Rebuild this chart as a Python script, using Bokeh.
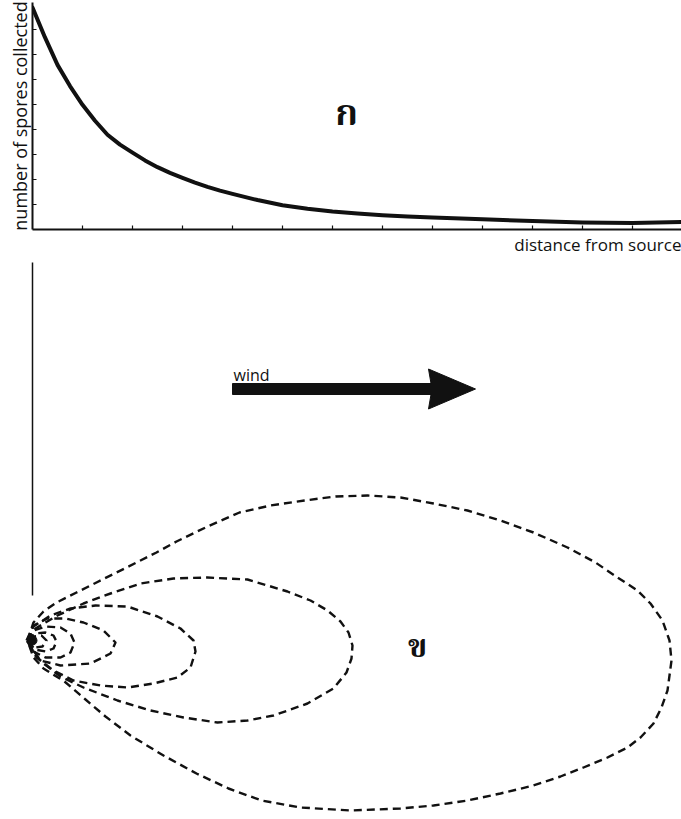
from bokeh.plotting import figure
from bokeh.layouts import column
from bokeh.models import Range1d, FixedTicker, Label, Title
from bokeh.core.properties import value
from bokeh.embed import file_html
from bokeh.resources import INLINE

# ---- panel ก : spore catch against distance from the source ----
distance = [0.0, 0.25, 0.5, 0.75, 1.0, 1.25, 1.5, 1.75, 2.0, 2.25, 2.5, 2.75, 3.0, 3.25,
            3.5, 3.75, 4.0, 4.5, 5.0, 5.5, 6.0, 6.5, 7.0, 7.5, 8.0, 9.0, 10.0, 11.0, 12.0,
            12.98]
spores = [8.9, 7.7, 6.6, 5.75, 5.0, 4.36, 3.8, 3.4, 3.08, 2.77, 2.5, 2.27, 2.07, 1.88,
          1.71, 1.56, 1.43, 1.18, 0.97, 0.83, 0.72, 0.64, 0.57, 0.52, 0.48, 0.41, 0.34,
          0.28, 0.26, 0.3]
distance_ticks = [1, 2, 3, 4, 5, 6, 7, 8, 9, 10, 11, 12]
spore_ticks = [1, 2, 3, 4, 5, 6, 7, 8]

# ---- panel ข : isolines of spore deposition around the source (downwind, crosswind) ----
iso1_x = [-0.10, 0.02, 0.22, 0.48, 0.88, 1.28, 1.68, 2.08, 2.48, 2.88, 3.46, 4.14, 4.76,
          5.44, 6.06, 6.70, 7.36, 8.02, 8.70, 9.36, 10.02, 10.70, 11.26, 11.70, 12.10,
          12.36, 12.60, 12.74, 12.78, 12.74, 12.70, 12.58, 12.42, 12.16, 11.90, 11.50,
          11.02, 10.56, 10.02, 9.36, 8.70, 8.02, 7.36, 6.36, 5.36, 4.58, 3.92, 3.28,
          2.62, 1.96, 1.46, 1.06, 0.64, 0.22, 0.02, -0.10]
iso1_y = [0.00, 0.36, 0.58, 0.76, 0.96, 1.16, 1.36, 1.56, 1.76, 1.98, 2.26, 2.56, 2.70,
          2.80, 2.88, 2.90, 2.86, 2.74, 2.60, 2.40, 2.16, 1.86, 1.56, 1.26, 1.00,
          0.74, 0.40, 0.00, -0.40, -0.70, -1.00, -1.34, -1.66, -1.94, -2.14, -2.34,
          -2.54, -2.72, -2.90, -3.06, -3.20, -3.30, -3.36, -3.40, -3.34, -3.20, -2.96, -2.66,
          -2.30, -1.90, -1.52, -1.18, -0.82, -0.56, -0.34, 0.00]
iso2_x = [-0.10, 0.06, 0.26, 0.50, 1.02, 1.56, 2.16, 2.82, 3.50, 4.30, 5.10, 5.56, 5.90,
          6.16, 6.32, 6.40, 6.38, 6.28, 6.02, 5.50, 4.82, 4.30, 3.70, 3.02, 2.36, 1.70,
          1.02, 0.56, 0.22, 0.00, -0.10]
iso2_y = [0.00, 0.24, 0.36, 0.50, 0.74, 0.94, 1.14, 1.24, 1.26, 1.22, 0.98, 0.80, 0.60,
          0.38, 0.16, -0.10, -0.36, -0.64, -0.96, -1.26, -1.50, -1.60, -1.64, -1.54, -1.40,
          -1.20, -0.94, -0.72, -0.46, -0.24, 0.00]
iso3_x = [-0.10, 0.02, 0.36, 0.76, 1.26, 1.90, 2.50, 2.96, 3.22, 3.26, 3.16, 2.90, 2.42,
          1.90, 1.36, 0.82, 0.42, 0.08, -0.10]
iso3_y = [0.00, 0.28, 0.50, 0.64, 0.70, 0.68, 0.48, 0.24, 0.00, -0.22, -0.54, -0.74, -0.86,
          -0.94, -0.90, -0.80, -0.60, -0.34, 0.00]
iso4_x = [-0.12, 0.02, 0.30, 0.66, 1.02, 1.42, 1.66, 1.56, 1.16, 0.56, 0.16, -0.12]
iso4_y = [0.00, 0.30, 0.44, 0.44, 0.36, 0.20, -0.04, -0.26, -0.46, -0.50, -0.40, 0.00]
iso5_x = [-0.10, 0.02, 0.26, 0.56, 0.76, 0.84, 0.76, 0.56, 0.26, 0.02, -0.10]
iso5_y = [0.00, 0.20, 0.28, 0.26, 0.14, -0.04, -0.24, -0.34, -0.34, -0.22, 0.00]
iso6_x = [-0.08, 0.04, 0.26, 0.42, 0.48, 0.42, 0.26, 0.04, -0.08]
iso6_y = [0.00, 0.14, 0.16, 0.10, -0.02, -0.16, -0.22, -0.18, 0.00]
iso7_x = [-0.06, 0.04, 0.18, 0.28, 0.20, 0.06, -0.06]
iso7_y = [0.00, 0.08, 0.10, 0.00, -0.12, -0.14, 0.00]

LABEL_FONT = "Open Sans"
THAI_FONT = "Noto Serif Thai, Noto Sans Thai Looped, Noto Sans Thai"
INK = "#111111"

# ---------------- top panel ----------------
top = figure(width=681, height=256, output_backend="svg", toolbar_location=None,
             x_range=Range1d(0, 12.98), y_range=Range1d(0, 9.1),
             min_border_left=32, min_border_right=0, min_border_top=2, min_border_bottom=27,
             frame_align=False)
top.outline_line_color = None
top.grid.visible = False
top.background_fill_color = "white"

for ax, ticks in ((top.xaxis[0], distance_ticks), (top.yaxis[0], spore_ticks)):
    ax.ticker = FixedTicker(ticks=ticks)
    ax.major_label_overrides = {t: "" for t in ticks}   # unlabelled tick marks
    ax.major_tick_in = 4
    ax.major_tick_out = 0
    ax.minor_tick_line_color = None
    ax.major_label_standoff = 0
    ax.axis_line_width = 2
    ax.axis_line_color = INK
    ax.major_tick_line_color = INK
    ax.major_tick_line_width = 1.2

top.yaxis.axis_label = "number of spores collected"
top.yaxis.axis_label_text_font = LABEL_FONT
top.yaxis.axis_label_text_font_size = "18px"
top.yaxis.axis_label_text_font_style = "normal"
top.yaxis.axis_label_text_color = INK
top.yaxis.axis_label_standoff = 1

top.line(distance, spores, line_width=4, line_color=INK, line_join="round", line_cap="round")

top.add_layout(Title(text="distance from source", align="right", text_font=LABEL_FONT,
                     text_font_size="17px", text_font_style="normal", text_color=INK,
                     standoff=2, offset=0), "below")
top.text(x=[6.28], y=[4.57], text=["ก"], text_font=value(THAI_FONT), text_font_size="36px",
         text_font_style="bold", text_align="center", text_baseline="middle", text_color=INK)

# ---------------- bottom panel ----------------
bot = figure(width=681, height=563, output_backend="svg", toolbar_location=None,
             x_range=Range1d(-0.64, 12.98), y_range=Range1d(-3.58, 7.68),
             x_axis_location=None, y_axis_location=None, min_border=0, frame_align=False)
bot.outline_line_color = None
bot.grid.visible = False

# upwind reference line above the source
bot.segment(x0=[0], y0=[0.9], x1=[0], y1=[7.56], line_width=1.5, line_color=INK)

# wind arrow
wind_start, wind_tip, wind_y = 4.0, 8.86, 5.03
shaft_half, head_half, head_back, notch = 0.11, 0.40, 7.92, 7.97
arrow_x = [wind_start, notch, head_back, wind_tip, head_back, notch, wind_start]
arrow_y = [wind_y + shaft_half, wind_y + shaft_half, wind_y + head_half, wind_y,
           wind_y - head_half, wind_y - shaft_half, wind_y - shaft_half]
bot.patch(arrow_x, arrow_y, fill_color=INK, line_color=INK, line_width=1)
bot.add_layout(Label(x=4.02, y=5.31, text="wind", text_font=LABEL_FONT, text_font_size="16px",
                     text_baseline="alphabetic", text_color=INK))

# deposition isolines
for xs, ys in ((iso1_x, iso1_y), (iso2_x, iso2_y), (iso3_x, iso3_y), (iso4_x, iso4_y),
               (iso5_x, iso5_y), (iso6_x, iso6_y), (iso7_x, iso7_y)):
    bot.line(xs, ys, line_width=2.4, line_color=INK, line_dash="8 5", line_join="round")

# spore source
bot.scatter(x=[0], y=[0], size=9, fill_color=INK, line_color=INK)

bot.text(x=[7.7], y=[-0.16], text=["ข"], text_font=value(THAI_FONT), text_font_size="32px",
         text_font_style="bold", text_align="center", text_baseline="middle", text_color=INK)

layout = column(top, bot, spacing=0)
open("out.html", "w").write(file_html(layout, INLINE))
